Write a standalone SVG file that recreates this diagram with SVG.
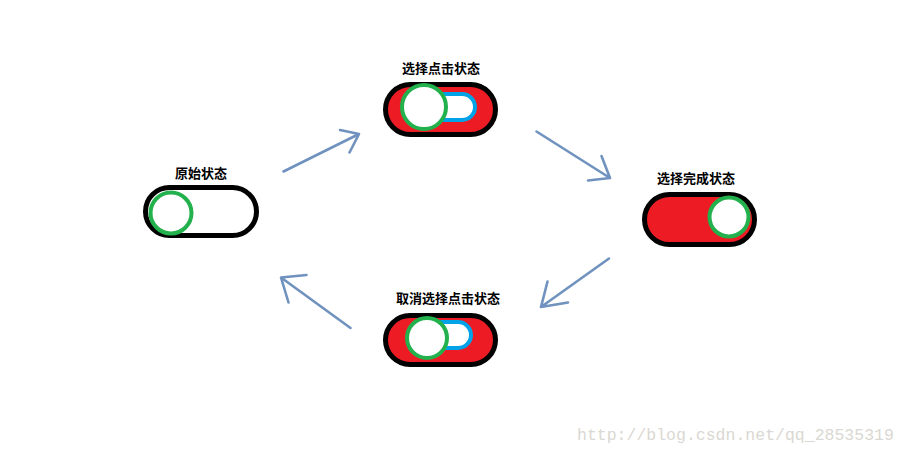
<svg xmlns="http://www.w3.org/2000/svg" width="908" height="454" viewBox="0 0 908 454">
<style>
.bg{fill:#ffffff}
.title{font-family:"Noto Sans CJK SC","Noto Sans",sans-serif;font-size:13px;font-weight:bold;fill:#000;text-anchor:middle}
.pill{stroke:#000;stroke-width:5}
.off{fill:#ffffff}
.on{fill:#ED1C24}
.track{fill:#ffffff;stroke:#00A2E8;stroke-width:4}
.knob{fill:#ffffff;stroke:#22B14C;stroke-width:4}
.arrow{fill:none;stroke:#7092BE;stroke-width:2.6;stroke-linecap:round;stroke-linejoin:round}
.wm{font-family:"Liberation Mono",monospace;font-size:16.5px;fill:#dad8d2}
</style>
<rect class="bg" x="0" y="0" width="908" height="454"/>

<g id="original">
  <text class="title" x="201" y="178">原始状态</text>
  <rect class="pill off" x="145.5" y="187.5" width="111" height="48" rx="24"/>
  <circle class="knob" cx="171" cy="213" r="20.5"/>
</g>

<g id="select-click">
  <text class="title" x="441" y="73">选择点击状态</text>
  <rect class="pill on" x="385.5" y="84.5" width="110" height="50" rx="25"/>
  <rect class="track" x="412" y="94" width="63" height="26" rx="13"/>
  <circle class="knob" cx="424" cy="107" r="22"/>
</g>

<g id="select-done">
  <text class="title" x="696" y="183">选择完成状态</text>
  <rect class="pill on" x="644.5" y="194.5" width="110" height="50" rx="25"/>
  <circle class="knob" cx="729" cy="217" r="19.5"/>
</g>

<g id="cancel-click">
  <text class="title" x="448" y="303">取消选择点击状态</text>
  <rect class="pill on" x="385.5" y="315.5" width="110" height="49" rx="24.5"/>
  <rect class="track" x="410" y="322" width="61" height="26" rx="13"/>
  <circle class="knob" cx="427" cy="338" r="20"/>
</g>

<g id="connectors">
  <path class="arrow" d="M283.5,171.5 L359,134 M340,130 L359,134 L349.5,152.5"/>
  <path class="arrow" d="M536.5,131.5 L610,178 M601.5,156 L610,178 L588,180.5"/>
  <path class="arrow" d="M609,258.5 L541,307 M547.5,281.5 L541,307 L568,302.5"/>
  <path class="arrow" d="M350.5,328 L281,277.5 M306.5,275 L281,277.5 L288.5,302.5"/>
</g>

<text class="wm" x="577" y="440">http://blog.csdn.net/qq_28535319</text>
</svg>
